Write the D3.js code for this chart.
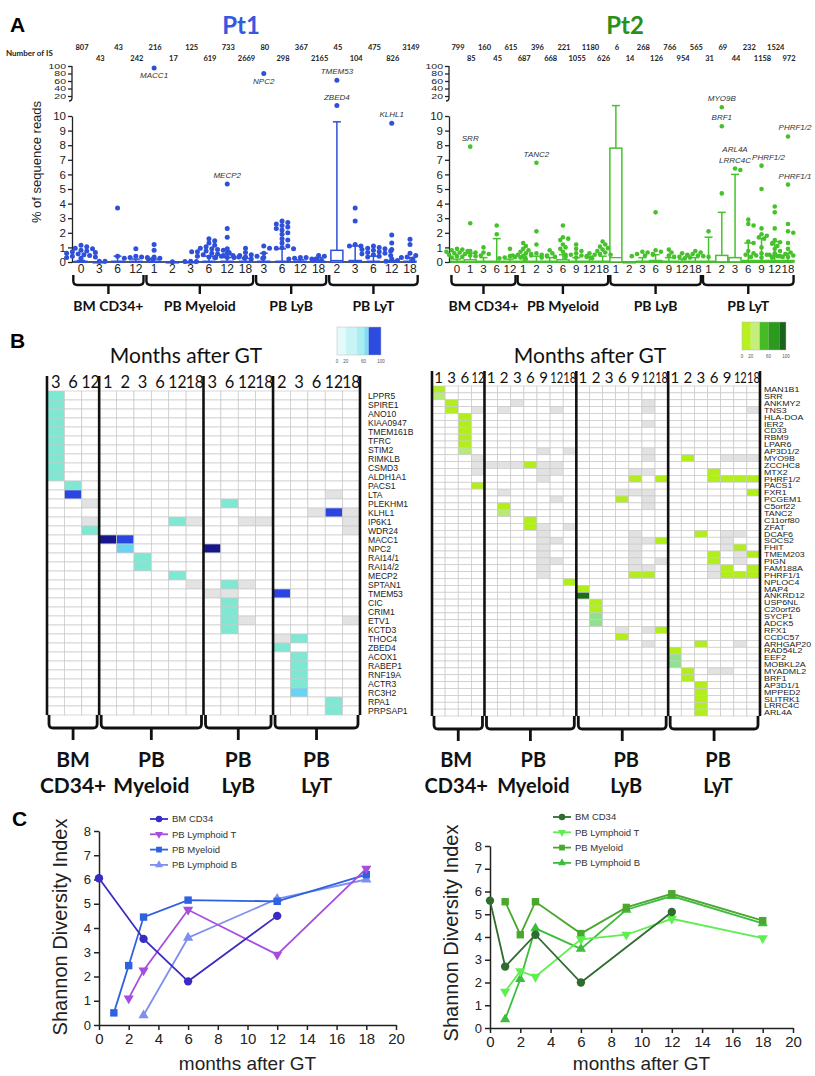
<!DOCTYPE html>
<html>
<head>
<meta charset="utf-8">
<script src="https://cdn.jsdelivr.net/npm/d3@7"></script>
<style>
body { margin: 0; background: #fff; }
svg { display: block; }
</style>
</head>
<body>
<svg id="fig" width="815" height="1076"></svg>
<script>

// ---------- data ----------

var groupKeys = ["BM", "My", "LyB", "LyT"];
var groupNamesA = ["BM CD34+", "PB Myeloid", "PB LyB", "PB LyT"];
var groupNamesB = [["BM", "CD34+"], ["PB", "Myeloid"], ["PB", "LyB"], ["PB", "LyT"]];

// panel A, months per group
var pt1Months = [[0, 3, 6, 12], [1, 2, 3, 6, 12, 18], [3, 6, 12, 18], [2, 3, 6, 12, 18]];
var pt2Months = [[0, 1, 3, 6, 12], [1, 2, 3, 6, 9, 12, 18], [1, 2, 3, 6, 9, 12, 18], [1, 2, 3, 6, 9, 12, 18]];

// number of IS per sample
var pt1IS = [807, 43, 43, 242, 216, 17, 125, 619, 733, 2669, 80, 298, 367, 2165, 45, 104, 475, 826, 3149];
var pt2IS = [799, 85, 160, 45, 615, 687, 396, 668, 221, 1055, 1180, 626, 6, 14, 268, 126, 766, 954, 565, 31, 69, 44, 232, 1158, 1524, 972];

// % of sequence reads, dots per sample
var pt1Reads = [
    [1.15, 1.05, 0.95, 0.9, 0.8, 0.75, 0.7, 0.65, 0.6, 0.55, 0.5, 0.45, 0.4, 0.35, 0.3, 0.25],
    [0.05, 0.05],
    [3.7, 0.4],
    [0.9, 0.4, 0.35, 0.3, 0.3, 0.25, 0.2],
    [95, 1.2, 0.8, 0.35, 0.25, 0.2],
    [0.02],
    [0.05, 0.04, 0.03],
    [1.6, 1.45, 1.3, 1.15, 1.05, 0.95, 0.9, 0.85, 0.8, 0.75, 0.7, 0.65, 0.6, 0.55, 0.5, 0.45, 0.4, 0.35, 0.3, 0.6, 0.7],
    [5.35, 2.3, 1.7, 0.9, 0.6, 0.45, 0.4, 0.35, 0.3, 0.25, 0.3],
    [0.95, 0.65, 0.5, 0.45, 0.4, 0.35, 0.3, 0.25, 0.2],
    [80, 1.1, 0.95, 0.6, 0.3],
    [2.8, 2.7, 2.6, 2.5, 2.4, 2.3, 2.2, 2.0, 1.9, 1.6, 1.5, 1.3, 1.1, 1.0, 0.95, 0.9],
    [0.3, 0.3, 0.25, 0.2, 0.2],
    [0.45, 0.4, 0.2, 0.1],
    [62, 14],
    [3.7, 2.8, 1.2, 1.1, 1.1],
    [1.1, 1.0, 0.95, 0.9, 0.85, 0.8, 0.75, 0.7, 0.65, 0.6, 0.55, 0.5, 0.45, 0.4, 0.35],
    [9.5, 1.85, 1.3, 0.85, 0.2, 0.1, 0.05],
    [1.55, 1.2, 0.6, 0.45, 0.35, 0.3, 0.2]
];
var pt2Reads = [
    [0.9, 0.85, 0.8, 0.75, 0.7, 0.65, 0.6, 0.55, 0.5, 0.45, 0.4, 0.35, 0.3],
    [7.9, 2.65, 0.75, 0.65],
    [1.0, 0.65, 0.55, 0.45, 0.4],
    [2.5, 1.9],
    [0.9, 0.4, 0.35, 0.3, 0.3, 0.25, 0.2],
    [1.3, 1.1, 0.9, 0.8, 0.7, 0.6, 0.55, 0.5, 0.45, 0.4],
    [6.8, 2.1, 1.2, 0.6, 0.5, 0.45, 0.4],
    [0.8, 0.6, 0.45, 0.35, 0.3],
    [2.5, 1.7, 1.6, 1.5, 1.2, 1.0, 0.9, 0.7, 0.5],
    [1.2, 0.9, 0.75, 0.6, 0.5, 0.45, 0.4, 0.35, 0.3],
    [0.6, 0.5, 0.35, 0.25],
    [1.4, 1.2, 1.05, 0.95, 0.85, 0.75, 0.65, 0.55, 0.5],
    [],
    [],
    [0.7, 0.65, 0.55, 0.5, 0.45, 0.4],
    [3.4, 0.8, 0.7, 0.55],
    [0.85, 0.65, 0.45, 0.35],
    [0.6, 0.45, 0.35, 0.25],
    [0.75, 0.65, 0.55, 0.5, 0.45, 0.4, 0.35, 0.3],
    [2.1],
    [13, 9.3, 4.7],
    [6.4, 6.3],
    [2.9, 2.6, 2.5, 1.4, 1.3, 0.75, 0.6, 0.5, 0.35],
    [6.6, 5.0, 2.3, 1.9, 1.8, 1.7, 1.6, 1.0, 0.6, 0.5, 0.45, 0.35, 0.3],
    [3.8, 3.4, 2.3, 1.5, 1.35, 1.25, 1.1, 0.9, 0.75, 0.6, 0.5, 0.4, 0.35, 0.3],
    [8.6, 5.3, 2.6, 2.1, 2.0, 1.3, 0.9, 0.65, 0.55, 0.45, 0.4, 0.35]
];

// box: [q1, median, q3, upper whisker]
var pt1Box = [
    [0, 0, 0.05, 0.1], [0, 0, 0, 0], [0, 0, 0.05, 0.4], [0, 0, 0.05, 0.2],
    [0, 0, 0.05, 0.2], [0, 0, 0, 0], [0, 0, 0, 0], [0, 0, 0.05, 0.4], [0, 0, 0.05, 0.3], [0, 0, 0.05, 0.25],
    [0, 0, 0.05, 0.6], [0, 0, 0.05, 0.9], [0, 0, 0.05, 0.15], [0, 0, 0.05, 0.3],
    [0, 0.1, 0.8, 9.6], [0, 0, 0.1, 1.1], [0, 0, 0.05, 0.4], [0, 0, 0.05, 0.1], [0, 0, 0.05, 0.3]
];
var pt2Box = [
    [0, 0, 0.05, 0.2], [0, 0, 0.15, 0.6], [0, 0, 0.05, 0.3], [0, 0, 0.05, 1.6], [0, 0, 0.05, 0.2],
    [0, 0, 0.05, 0.4], [0, 0, 0.05, 0.4], [0, 0, 0.05, 0.3], [0, 0, 0.15, 0.5], [0, 0, 0.05, 0.3], [0, 0, 0.05, 0.4], [0, 0, 0.05, 0.4],
    [0, 0.3, 7.8, 14], [0, 0, 0, 0], [0, 0, 0.05, 0.3], [0, 0, 0.1, 0.5], [0, 0, 0.05, 0.3], [0, 0, 0.05, 0.2], [0, 0, 0.05, 0.3],
    [0, 0, 0.05, 1.7], [0, 0, 0.45, 3.4], [0, 0, 0.3, 6.0], [0, 0, 0.1, 1.3], [0, 0, 0.1, 1.6], [0, 0, 0.1, 1.4], [0, 0, 0.1, 0.6]
];

// annotated clones: [sample, value, gene, placement]
var pt1Notes = [
    [4, 95, "MACC1", "below"], [10, 80, "NPC2", "below"], [14, 62, "TMEM53", "above"],
    [14, 14, "ZBED4", "above"], [17, 9.5, "KLHL1", "above"], [8, 5.35, "MECP2", "above"]
];
var pt2Notes = [
    [1, 7.9, "SRR", "above"], [6, 6.8, "TANC2", "above"], [20, 13, "MYO9B", "above"],
    [20, 9.3, "BRF1", "above"], [21, 6.4, "ARL4A|LRRC4C", "above"], [23, 6.6, "PHRF1/2", "aboveRight"],
    [25, 8.6, "PHRF1/2", "aboveRight"], [25, 5.3, "PHRF1/1", "aboveRight"]
];

// panel B, heatmap columns and genes
var pt1HeatMonths = [[3, 6, 12], [1, 2, 3, 6, 12, 18], [3, 6, 12, 18], [2, 3, 6, 12, 18]];
var pt2HeatMonths = [[1, 3, 6, 12], [1, 2, 3, 6, 9, 12, 18], [1, 2, 3, 6, 9, 12, 18], [1, 2, 3, 6, 9, 12, 18]];

var pt1Genes = ["LPPR5", "SPIRE1", "ANO10", "KIAA0947", "TMEM161B", "TFRC", "STIM2", "RIMKLB", "CSMD3",
    "ALDH1A1", "PACS1", "LTA", "PLEKHM1", "KLHL1", "IP6K1", "WDR24", "MACC1", "NPC2", "RAI14/1", "RAI14/2",
    "MECP2", "SPTAN1", "TMEM53", "CIC", "CRIM1", "ETV1", "KCTD3", "THOC4", "ZBED4", "ACOX1", "RABEP1",
    "RNF19A", "ACTR3", "RC3H2", "RPA1", "PRPSAP1"];
var pt2Genes = ["MAN1B1", "SRR", "ANKMY2", "TNS3", "HLA-DOA", "IER2", "CD33", "RBM9", "LPAR6", "AP3D1/2",
    "MYO9B", "ZCCHC8", "MTX2", "PHRF1/2", "PACS1", "FXR1", "PCGEM1", "C5orf22", "TANC2", "C11orf80", "ZFAT",
    "DCAF6", "SOCS2", "FHIT", "TMEM203", "PIGN", "FAM188A", "PHRF1/1", "NPLOC4", "MAP4", "ANKRD12", "USP6NL",
    "C20orf26", "SYCP1", "ADCK5", "RFX1", "CCDC57", "ARHGAP20", "RAD54L2", "EEF2", "MOBKL2A", "MYADML2",
    "BRF1", "AP3D1/1", "MPPED2", "SLITRK1", "LRRC4C", "ARL4A"];

// [gene, group, month, relative abundance]
var pt1Cells = [
    ["LPPR5", "BM", 3, 30], ["SPIRE1", "BM", 3, 30], ["ANO10", "BM", 3, 30], ["KIAA0947", "BM", 3, 30],
    ["TMEM161B", "BM", 3, 30], ["TFRC", "BM", 3, 30], ["STIM2", "BM", 3, 30], ["RIMKLB", "BM", 3, 30],
    ["CSMD3", "BM", 3, 30], ["ALDH1A1", "BM", 3, 30],
    ["PACS1", "BM", 6, 30], ["LTA", "BM", 6, 75], ["LTA", "LyT", 12, 5], ["PLEKHM1", "BM", 12, 5],
    ["PLEKHM1", "LyB", 6, 30], ["KLHL1", "LyT", 6, 5], ["KLHL1", "LyT", 12, 75], ["KLHL1", "LyT", 18, 5],
    ["IP6K1", "BM", 12, 5], ["IP6K1", "My", 12, 30], ["IP6K1", "My", 18, 5], ["IP6K1", "LyB", 12, 5],
    ["IP6K1", "LyB", 18, 5], ["IP6K1", "LyT", 18, 5], ["WDR24", "BM", 12, 30], ["WDR24", "LyT", 18, 5],
    ["MACC1", "My", 1, 95], ["MACC1", "My", 2, 75], ["NPC2", "My", 2, 50], ["NPC2", "LyB", 3, 95],
    ["RAI14/1", "My", 3, 30], ["RAI14/2", "My", 3, 30], ["MECP2", "My", 12, 30],
    ["SPTAN1", "My", 18, 5], ["SPTAN1", "LyB", 6, 30], ["SPTAN1", "LyB", 12, 5],
    ["TMEM53", "LyB", 3, 5], ["TMEM53", "LyB", 6, 5], ["TMEM53", "LyT", 2, 75],
    ["CIC", "LyB", 6, 30], ["CRIM1", "LyB", 6, 30], ["ETV1", "LyB", 6, 30], ["ETV1", "LyB", 12, 5],
    ["ETV1", "LyT", 18, 5], ["KCTD3", "LyB", 6, 30], ["THOC4", "LyT", 2, 5], ["THOC4", "LyT", 3, 30],
    ["ZBED4", "LyT", 2, 30], ["ACOX1", "LyT", 3, 30], ["RABEP1", "LyT", 3, 30], ["RNF19A", "LyT", 3, 30],
    ["ACTR3", "LyT", 3, 30], ["RC3H2", "LyT", 3, 50], ["RPA1", "LyT", 12, 30], ["PRPSAP1", "LyT", 12, 30]
];
var pt2Cells = [
    ["MAN1B1", "BM", 1, 20], ["SRR", "BM", 1, 35], ["ANKMY2", "BM", 3, 20], ["ANKMY2", "My", 3, 5],
    ["ANKMY2", "LyB", 12, 5], ["TNS3", "BM", 3, 20], ["TNS3", "BM", 12, 5], ["TNS3", "My", 2, 5],
    ["TNS3", "My", 12, 5], ["TNS3", "LyB", 12, 5], ["TNS3", "LyT", 18, 5],
    ["HLA-DOA", "BM", 6, 20], ["IER2", "BM", 6, 20], ["CD33", "BM", 6, 20], ["RBM9", "BM", 6, 20],
    ["LPAR6", "BM", 6, 20], ["AP3D1/2", "BM", 6, 35], ["IER2", "LyB", 12, 5], ["AP3D1/2", "My", 9, 5],
    ["AP3D1/2", "My", 18, 5], ["AP3D1/2", "LyB", 12, 5],
    ["MYO9B", "BM", 12, 5], ["MYO9B", "LyT", 2, 20], ["MYO9B", "LyT", 9, 5], ["MYO9B", "LyT", 12, 5],
    ["MYO9B", "LyT", 18, 5], ["MYO9B", "LyB", 12, 5],
    ["ZCCHC8", "BM", 12, 5], ["ZCCHC8", "My", 1, 5], ["ZCCHC8", "My", 2, 5], ["ZCCHC8", "My", 3, 5],
    ["ZCCHC8", "My", 6, 20], ["ZCCHC8", "My", 9, 5], ["ZCCHC8", "My", 12, 5],
    ["MTX2", "BM", 12, 5], ["MTX2", "My", 9, 5], ["MTX2", "My", 12, 5], ["MTX2", "LyT", 6, 20],
    ["MTX2", "LyB", 9, 5], ["MTX2", "LyB", 12, 5],
    ["PHRF1/2", "My", 9, 5], ["PHRF1/2", "LyB", 9, 20], ["PHRF1/2", "LyB", 18, 20], ["PHRF1/2", "LyT", 6, 20],
    ["PHRF1/2", "LyT", 9, 20], ["PHRF1/2", "LyT", 12, 20], ["PHRF1/2", "LyT", 18, 20],
    ["PACS1", "BM", 12, 20], ["FXR1", "LyB", 6, 5], ["FXR1", "LyB", 9, 5], ["FXR1", "LyB", 12, 5],
    ["FXR1", "LyT", 18, 20], ["FXR1", "My", 2, 5], ["PCGEM1", "LyB", 6, 20], ["PCGEM1", "My", 12, 5],
    ["PCGEM1", "LyB", 12, 5], ["C5orf22", "My", 2, 20], ["C5orf22", "LyB", 12, 5], ["TANC2", "My", 2, 35],
    ["C11orf80", "My", 6, 20], ["ZFAT", "My", 6, 20], ["ZFAT", "My", 9, 5], ["ZFAT", "My", 18, 5],
    ["DCAF6", "My", 9, 5], ["DCAF6", "LyT", 3, 20], ["DCAF6", "LyB", 9, 5], ["DCAF6", "LyT", 9, 5],
    ["DCAF6", "LyT", 12, 5], ["SOCS2", "My", 9, 5], ["SOCS2", "My", 12, 5], ["SOCS2", "LyB", 9, 5],
    ["SOCS2", "LyB", 12, 5], ["SOCS2", "LyB", 18, 20], ["SOCS2", "LyT", 9, 5],
    ["FHIT", "My", 9, 5], ["FHIT", "LyB", 9, 5], ["FHIT", "LyT", 9, 5], ["FHIT", "LyT", 12, 20],
    ["TMEM203", "My", 9, 5], ["TMEM203", "LyB", 9, 5], ["TMEM203", "LyT", 6, 20], ["TMEM203", "LyT", 12, 5],
    ["TMEM203", "LyT", 18, 20], ["PIGN", "My", 9, 5], ["PIGN", "My", 12, 5], ["PIGN", "LyB", 9, 5],
    ["PIGN", "LyB", 18, 5], ["PIGN", "LyT", 6, 20], ["PIGN", "LyT", 12, 5],
    ["FAM188A", "My", 9, 5], ["FAM188A", "LyB", 9, 5], ["FAM188A", "LyB", 12, 5], ["FAM188A", "LyT", 6, 5],
    ["FAM188A", "LyT", 9, 20], ["FAM188A", "LyT", 18, 20],
    ["PHRF1/1", "My", 9, 5], ["PHRF1/1", "LyB", 9, 20], ["PHRF1/1", "LyB", 12, 20], ["PHRF1/1", "LyT", 6, 5],
    ["PHRF1/1", "LyT", 9, 20], ["PHRF1/1", "LyT", 12, 20], ["PHRF1/1", "LyT", 18, 20],
    ["NPLOC4", "My", 18, 20], ["MAP4", "LyB", 1, 20], ["ANKRD12", "LyB", 1, 95], ["USP6NL", "LyB", 2, 20],
    ["C20orf26", "LyB", 2, 20], ["SYCP1", "LyB", 2, 45], ["ADCK5", "LyB", 2, 45], ["RFX1", "LyB", 6, 5],
    ["RFX1", "LyB", 12, 5], ["RFX1", "LyB", 18, 20], ["CCDC57", "LyB", 6, 20], ["ARHGAP20", "LyB", 12, 5],
    ["ARHGAP20", "LyT", 3, 20], ["ARHGAP20", "LyT", 12, 5], ["RAD54L2", "LyT", 1, 20], ["EEF2", "LyT", 1, 45],
    ["MOBKL2A", "LyT", 1, 45], ["MYADML2", "LyT", 2, 20], ["MYADML2", "LyT", 6, 5], ["MYADML2", "LyT", 9, 5],
    ["BRF1", "LyT", 2, 20], ["AP3D1/1", "LyT", 3, 20], ["MPPED2", "LyT", 3, 20], ["SLITRK1", "LyT", 3, 20],
    ["LRRC4C", "LyT", 3, 20], ["ARL4A", "LyT", 3, 20]
];

// panel C, Shannon diversity index
var seriesNames = ["BM CD34", "PB Lymphoid T", "PB Myeloid", "PB Lymphoid B"];
var pt1Shannon = [
    [[0, 6.05], [3, 3.55], [6, 1.8], [12, 4.5]],
    [[2, 1.1], [3, 2.25], [6, 4.75], [12, 2.9], [18, 6.45]],
    [[1, 0.5], [2, 2.45], [3, 4.45], [6, 5.15], [12, 5.1], [18, 6.2]],
    [[3, 0.4], [6, 3.6], [12, 5.2], [18, 6.0]]
];
var pt2Shannon = [
    [[0, 5.6], [1, 2.7], [3, 4.1], [6, 2.0], [12, 5.1]],
    [[1, 1.6], [2, 2.5], [3, 2.25], [6, 3.9], [9, 4.1], [12, 4.8], [18, 3.95]],
    [[1, 5.55], [2, 4.1], [3, 5.55], [6, 4.15], [9, 5.3], [12, 5.9], [18, 4.72]],
    [[1, 0.38], [2, 2.15], [3, 4.38], [6, 3.48], [9, 5.2], [12, 5.8], [18, 4.6]]
];
var shannonTicksX = [0, 2, 4, 6, 8, 10, 12, 14, 16, 18, 20];
var shannonTicksY = [0, 1, 2, 3, 4, 5, 6, 7, 8];

// ---------- drawing ----------

var SANS = "'Liberation Sans', Arial, sans-serif";
var CAL = "Lato, 'Open Sans', sans-serif";

var svg = d3.select("#fig");

function letter(t, x, y) {
    svg.append("text")
        .attr("x", x).attr("y", y)
        .attr("font-family", SANS).attr("font-weight", "bold").attr("font-size", 21)
        .text(t);
}

function bracket(g, x0, x1, yTop, yBot, yTick, w) {
    var xc = (x0 + x1) / 2, r = 4;
    g.append("path")
        .attr("d", "M" + x0 + "," + yTop + " L" + x0 + "," + (yBot - r) +
            " Q" + x0 + "," + yBot + " " + (x0 + r) + "," + yBot +
            " L" + (x1 - r) + "," + yBot + " Q" + x1 + "," + yBot + " " + x1 + "," + (yBot - r) +
            " L" + x1 + "," + yTop +
            " M" + xc + "," + yBot + " L" + xc + "," + yTick)
        .attr("fill", "none").attr("stroke", "#111").attr("stroke-width", w);
    return xc;
}

function swarm(vals, cx, y, r) {
    var placed = [];
    vals.slice().sort(function (a, b) { return b - a; }).forEach(function (v) {
        var cy = y(v), k = 0, px = cx;
        while (k < 14) {
            var off = (k % 2 ? 1 : -1) * Math.ceil(k / 2) * r * 1.15;
            px = cx + off;
            var hit = placed.some(function (p) {
                return (p[0] - px) * (p[0] - px) + (p[1] - cy) * (p[1] - cy) < (1.7 * r) * (1.7 * r);
            });
            if (!hit) break;
            k++;
        }
        placed.push([px, cy, v]);
    });
    return placed;
}

function dotPanel(opt) {
    var g = svg.append("g");
    var n = opt.reads.length;
    var x = d3.scalePoint().domain(d3.range(n)).range(opt.xRange);
    var step = x.step();
    var yLo = d3.scaleLinear().domain([0, 10]).range([262, 116]);
    var yHi = d3.scaleLinear().domain([10, 20, 100]).range([112, 96, 66]);
    var y = function (v) { return v > 10 ? yHi(v) : yLo(v); };
    var ax = opt.axisX;

    // y axis, lower and upper part
    var aLo = g.append("g").attr("transform", "translate(" + ax + ",0)")
        .call(d3.axisLeft(yLo).tickValues(d3.range(0, 11)).tickSize(4).tickSizeOuter(0));
    var aHi = g.append("g").attr("transform", "translate(" + ax + ",0)")
        .call(d3.axisLeft(yHi).tickValues([20, 40, 60, 80, 100]).tickSize(4).tickSizeOuter(0));
    aHi.select(".domain").remove();
    g.append("path")
        .attr("d", "M" + ax + "," + yHi(100) + " L" + ax + "," + (yHi(20) + 2) + " Q" + ax + "," + (yHi(20) + 5) + " " + (ax - 3) + "," + (yHi(20) + 5))
        .attr("fill", "none").attr("stroke", "#222").attr("stroke-width", 1.3);
    [aLo, aHi].forEach(function (a) {
        a.selectAll("text").attr("font-family", SANS).attr("font-size", 11.5).attr("fill", "#222").attr("dx", 1);
        a.selectAll("line, .domain").attr("stroke", "#222").attr("stroke-width", 1.3);
    });
    // the upper ticks sit only 7.5 px apart, so their labels are squeezed vertically
    aHi.selectAll("text")
        .attr("font-size", 10.5)
        .attr("dy", "0.36em")
        .attr("transform", "scale(1,0.62)");

    // x axis
    g.append("line")
        .attr("x1", ax).attr("x2", opt.xRange[1] + step * 0.3)
        .attr("y1", yLo(0)).attr("y2", yLo(0))
        .attr("stroke", "#222").attr("stroke-width", 1.3);

    var months = [];
    opt.months.forEach(function (ms) {
        ms.forEach(function (m) { months.push(m); });
    });

    g.selectAll("text.xt")
        .data(months)
        .enter().append("text")
        .attr("class", "xt")
        .attr("x", function (d, i) { return x(i); })
        .attr("y", 273)
        .attr("text-anchor", "middle")
        .attr("font-family", SANS).attr("font-size", opt.tickSize).attr("fill", "#222")
        .text(function (d) { return d; });

    // number of IS
    g.selectAll("text.nis")
        .data(opt.is)
        .enter().append("text")
        .attr("class", "nis")
        .attr("x", function (d, i) { return x(i) + 1; })
        .attr("y", function (d, i) { return i % 2 ? 61 : 50; })
        .attr("text-anchor", "middle")
        .attr("font-family", CAL).attr("font-weight", "bold").attr("font-size", 7.5).attr("fill", "#222")
        .text(function (d) { return d; });

    // boxes and whiskers
    opt.box.forEach(function (b, i) {
        var cx = x(i), bw = opt.boxW;
        if (b[3] > b[2]) {
            g.append("line")
                .attr("x1", cx).attr("x2", cx).attr("y1", y(b[2])).attr("y2", y(b[3]))
                .attr("stroke", opt.color).attr("stroke-width", 1.5);
            g.append("line")
                .attr("x1", cx - 4).attr("x2", cx + 4).attr("y1", y(b[3])).attr("y2", y(b[3]))
                .attr("stroke", opt.color).attr("stroke-width", 1.5);
        }
        g.append("rect")
            .attr("x", cx - bw / 2).attr("width", bw)
            .attr("y", y(b[2])).attr("height", Math.max(0.8, y(b[0]) - y(b[2])))
            .attr("fill", "#fff").attr("stroke", opt.color).attr("stroke-width", 1.5);
        g.append("line")
            .attr("x1", cx - bw / 2).attr("x2", cx + bw / 2).attr("y1", y(b[1])).attr("y2", y(b[1]))
            .attr("stroke", opt.color).attr("stroke-width", 1.3);
    });

    // dots
    var placedAll = [];
    opt.reads.forEach(function (vals, i) {
        var pts = swarm(vals, x(i), y, opt.r);
        placedAll[i] = pts;
        g.selectAll(null)
            .data(pts)
            .enter().append("circle")
            .attr("cx", function (p) { return p[0]; })
            .attr("cy", function (p) { return p[1]; })
            .attr("r", opt.r)
            .attr("fill", opt.color);
    });

    // annotations
    opt.notes.forEach(function (nt) {
        var p = placedAll[nt[0]].filter(function (q) { return q[2] === nt[1]; })[0];
        var lines = nt[2].split("|");
        var lx = p[0], ly;
        if (nt[3] === "below") ly = p[1] + 10;
        else ly = p[1] - 6 - (lines.length - 1) * 11;
        if (nt[3] === "aboveRight") lx += 7;
        lines.forEach(function (t, k) {
            g.append("text")
                .attr("x", lx).attr("y", ly + k * 11)
                .attr("text-anchor", "middle")
                .attr("font-family", SANS).attr("font-style", "italic").attr("font-size", 8).attr("fill", "#333")
                .text(t);
        });
    });

    // brackets and group labels
    var start = 0;
    opt.months.forEach(function (ms, k) {
        var a = x(start) - step * 0.42, b = x(start + ms.length - 1) + step * 0.42;
        var xc = bracket(g, a, b, 275, 285, 294, 2.4);
        g.append("text")
            .attr("x", xc).attr("y", 311)
            .attr("text-anchor", "middle")
            .attr("font-family", CAL).attr("font-weight", "bold").attr("font-size", 14).attr("fill", "#111")
            .text(groupNamesA[k]);
        start += ms.length;
    });
}

letter("A", 10, 32);
svg.append("text").attr("x", 241).attr("y", 34).attr("text-anchor", "middle")
    .attr("font-family", CAL).attr("font-weight", "bold").attr("font-size", 24).attr("fill", "#3558e0").text("Pt1");
svg.append("text").attr("x", 625).attr("y", 34).attr("text-anchor", "middle")
    .attr("font-family", CAL).attr("font-weight", "bold").attr("font-size", 24).attr("fill", "#2c8f1c").text("Pt2");
svg.append("text").attr("x", 6).attr("y", 56)
    .attr("font-family", CAL).attr("font-weight", "bold").attr("font-size", 8).attr("fill", "#222").text("Number of IS");
svg.append("text")
    .attr("transform", "translate(41,162) rotate(-90)")
    .attr("text-anchor", "middle")
    .attr("font-family", SANS).attr("font-size", 13).attr("fill", "#222")
    .text("% of sequence reads");

dotPanel({
    reads: pt1Reads, box: pt1Box, months: pt1Months, is: pt1IS, notes: pt1Notes,
    xRange: [81, 410], axisX: 72, color: "#2f50d8", r: 2.5, boxW: 12, tickSize: 12
});
dotPanel({
    reads: pt2Reads, box: pt2Box, months: pt2Months, is: pt2IS, notes: pt2Notes,
    xRange: [457, 788], axisX: 449, color: "#45c22b", r: 2.3, boxW: 12, tickSize: 11.5
});

// ---------- panel B ----------

function heatmap(opt) {
    var g = svg.append("g");
    var cols = [];
    opt.months.forEach(function (ms, k) {
        ms.forEach(function (m) { cols.push(groupKeys[k] + "|" + m); });
    });
    var x = d3.scaleBand().domain(cols).range([opt.x0, opt.x1]);
    var yb = d3.scaleBand().domain(opt.genes).range([opt.y0, opt.y1]);

    var lookup = {};
    opt.cells.forEach(function (c) { lookup[c[0] + "#" + c[1] + "|" + c[2]] = c[3]; });

    var grid = [];
    opt.genes.forEach(function (gn) {
        cols.forEach(function (c) { grid.push({ gene: gn, col: c, v: lookup[gn + "#" + c] }); });
    });

    g.selectAll("rect.cell")
        .data(grid)
        .enter().append("rect")
        .attr("class", "cell")
        .attr("x", function (d) { return x(d.col); })
        .attr("y", function (d) { return yb(d.gene); })
        .attr("width", x.bandwidth())
        .attr("height", yb.bandwidth())
        .attr("fill", function (d) { return d.v === undefined ? "#fff" : opt.color(d.v); })
        .attr("stroke", "#c9c9c9").attr("stroke-width", 0.7);

    // column headers; two-digit months are narrowed to fit their column
    g.selectAll("text.ch")
        .data(cols)
        .enter().append("text")
        .attr("class", "ch")
        .attr("transform", function (d) {
            var m = d.split("|")[1];
            var sx = m.length > 1 ? opt.headSqueeze : 1;
            return "translate(" + (x(d) + x.bandwidth() / 2) + "," + (opt.y0 - 3) + ") scale(" + sx + ",1)";
        })
        .attr("text-anchor", "middle")
        .attr("font-family", CAL).attr("font-size", opt.headSize).attr("fill", "#111")
        .text(function (d) { return d.split("|")[1]; });

    // gene labels, stretched sideways so they stay legible in short rows
    g.selectAll("text.gl")
        .data(opt.genes)
        .enter().append("text")
        .attr("class", "gl")
        .attr("transform", function (d) {
            return "translate(" + (opt.x1 + opt.labelGap) + "," + (yb(d) + yb.bandwidth() / 2) + ") scale(" + opt.labelStretch + ",1)";
        })
        .attr("dy", "0.36em")
        .attr("font-family", SANS).attr("font-size", opt.labelSize).attr("fill", "#222")
        .text(function (d) { return d; });

    // group separators
    var seps = [];
    var start = 0;
    opt.months.forEach(function (ms) {
        seps.push(x(cols[start]));
        start += ms.length;
    });
    seps.push(opt.x1);
    g.selectAll("line.sep")
        .data(seps)
        .enter().append("line")
        .attr("x1", function (d) { return d; }).attr("x2", function (d) { return d; })
        .attr("y1", opt.y0 - 15).attr("y2", opt.y1)
        .attr("stroke", "#111").attr("stroke-width", 2.6);

    g.append("text")
        .attr("x", opt.titleX).attr("y", 363)
        .attr("text-anchor", "middle")
        .attr("font-family", CAL).attr("font-size", 21).attr("fill", "#111")
        .text("Months after GT");

    // brackets + labels
    for (var k = 0; k < 4; k++) {
        var xc = bracket(g, seps[k] + 2, seps[k + 1] - 2, opt.y1, opt.y1 + 13, opt.y1 + 25, 2.8);
        groupNamesB[k].forEach(function (t, j) {
            g.append("text")
                .attr("x", xc + (opt.groupShift[k] || 0)).attr("y", 767 + j * 26)
                .attr("text-anchor", "middle")
                .attr("font-family", CAL).attr("font-weight", "bold").attr("font-size", opt.groupSize).attr("fill", "#111")
                .text(t);
        });
    }

    // colour key
    var kx = d3.scaleLinear().domain([0, 100]).range([opt.keyX, opt.keyX + 44]);
    g.selectAll("rect.key")
        .data(opt.keyBands)
        .enter().append("rect")
        .attr("class", "key")
        .attr("x", function (d) { return kx(d[0]); })
        .attr("width", function (d) { return kx(d[1]) - kx(d[0]); })
        .attr("y", opt.keyY).attr("height", 28)
        .attr("fill", function (d) { return d[2]; });
    g.append("rect").attr("x", kx(0)).attr("y", opt.keyY).attr("width", 44).attr("height", 28)
        .attr("fill", "none").attr("stroke", "#bbb").attr("stroke-width", 0.5);
    g.selectAll("text.kt")
        .data([0, 20, 60, 100])
        .enter().append("text")
        .attr("x", function (d) { return kx(d); })
        .attr("y", opt.keyY + 36)
        .attr("text-anchor", "middle")
        .attr("font-family", SANS).attr("font-size", 4.5).attr("fill", "#555")
        .text(function (d) { return d; });
}

letter("B", 10, 348);

heatmap({
    months: pt1HeatMonths, genes: pt1Genes, cells: pt1Cells,
    x0: 47, x1: 360, y0: 391, y1: 715, headSize: 16.5, headSqueeze: 0.95, labelSize: 8.6, labelStretch: 1, labelGap: 8, titleX: 186,
    groupSize: 21, groupShift: [0, 0, 0, 0],
    color: d3.scaleThreshold().domain([10, 40, 60, 85]).range(["#e3e3e3", "#7fe8d3", "#68d3f3", "#2946e2", "#17168c"]),
    keyX: 337, keyY: 327,
    keyBands: [[0, 20, "#e4fafa"], [20, 45, "#c9f4f5"], [45, 62, "#a9edf1"], [62, 72, "#7fdcf2"], [72, 100, "#2c4be0"]]
});
heatmap({
    months: pt2HeatMonths, genes: pt2Genes, cells: pt2Cells,
    x0: 432, x1: 760, y0: 386, y1: 716, headSize: 15, headSqueeze: 0.74, labelSize: 7.5, labelStretch: 1.18, labelGap: 4, titleX: 590,
    groupSize: 20, groupShift: [-2, 3, 4, 4],
    color: d3.scaleThreshold().domain([10, 30, 40, 80]).range(["#e2e2e2", "#b2ee1c", "#b8ea78", "#90e38c", "#1d6b1d"]),
    keyX: 742, keyY: 322,
    keyBands: [[0, 20, "#b8f020"], [20, 40, "#c4ef7e"], [40, 60, "#46bb26"], [60, 85, "#2c9a1c"], [85, 100, "#1a641a"]]
});

// ---------- panel C ----------

function shannon(opt) {
    var g = svg.append("g");
    var x = d3.scaleLinear().domain([0, 20]).range([opt.x0, opt.x1]);
    var y = d3.scaleLinear().domain([0, 8]).range([opt.y0, opt.y1]);

    var ya = g.append("g").attr("transform", "translate(" + opt.x0 + ",0)")
        .call(d3.axisLeft(y).tickValues(shannonTicksY).tickSize(5).tickSizeOuter(0));
    var xa = g.append("g").attr("transform", "translate(0," + opt.y0 + ")")
        .call(d3.axisBottom(x).tickValues(shannonTicksX).tickSize(5).tickSizeOuter(0));
    [ya, xa].forEach(function (a) {
        a.selectAll("text").attr("font-family", SANS).attr("font-size", 15).attr("fill", "#222");
        a.selectAll("line, .domain").attr("stroke", "#222").attr("stroke-width", 1.5);
    });
    ya.selectAll("text").attr("font-size", 13);

    g.append("text")
        .attr("x", (opt.x0 + opt.x1) / 2).attr("y", 1070)
        .attr("text-anchor", "middle")
        .attr("font-family", SANS).attr("font-size", 19).attr("fill", "#222")
        .text("months after GT");
    g.append("text")
        .attr("transform", "translate(" + opt.labelX + "," + opt.labelY + ") rotate(-90)")
        .attr("text-anchor", "middle")
        .attr("font-family", SANS).attr("font-size", 20).attr("fill", "#222")
        .text("Shannon Diversity Index");

    var shapes = [d3.symbolCircle, d3.symbolTriangle, d3.symbolSquare, d3.symbolTriangle];
    var sizes = [55, 45, 55, 45];
    var rot = [0, 180, 0, 0];
    var line = d3.line().x(function (d) { return x(d[0]); }).y(function (d) { return y(d[1]); });

    // draw in an order that keeps the darker series on top
    [3, 2, 1, 0].forEach(function (s) {
        g.append("path")
            .attr("d", line(opt.series[s]))
            .attr("fill", "none").attr("stroke", opt.colors[s]).attr("stroke-width", 1.8);
        g.selectAll(null)
            .data(opt.series[s])
            .enter().append("path")
            .attr("d", d3.symbol().type(shapes[s]).size(sizes[s]))
            .attr("transform", function (d) { return "translate(" + x(d[0]) + "," + y(d[1]) + ") rotate(" + rot[s] + ")"; })
            .attr("fill", opt.colors[s]);
    });

    // legend
    seriesNames.forEach(function (nm, s) {
        var ly = opt.legY + s * 15.3;
        g.append("line")
            .attr("x1", opt.legX).attr("x2", opt.legX + 18).attr("y1", ly).attr("y2", ly)
            .attr("stroke", opt.colors[s]).attr("stroke-width", 1.8);
        g.append("path")
            .attr("d", d3.symbol().type(shapes[s]).size(sizes[s] * 0.6))
            .attr("transform", "translate(" + (opt.legX + 9) + "," + ly + ") rotate(" + rot[s] + ")")
            .attr("fill", opt.colors[s]);
        g.append("text")
            .attr("x", opt.legX + 22).attr("y", ly).attr("dy", "0.35em")
            .attr("font-family", SANS).attr("font-size", 9.5).attr("fill", "#333")
            .text(nm);
    });
}

letter("C", 12, 826);

shannon({
    series: pt1Shannon, x0: 99, x1: 396, y0: 1025, y1: 831,
    colors: ["#3a2cc2", "#a64de0", "#2f62e0", "#7d90f0"],
    legX: 150, legY: 819, labelX: 67, labelY: 927
});
shannon({
    series: pt2Shannon, x0: 490, x1: 793, y0: 1028, y1: 846,
    colors: ["#2f6c2f", "#5fee50", "#4aa82e", "#3dbd3d"],
    legX: 553, legY: 817, labelX: 458, labelY: 933
});

</script>
</body>
</html>
